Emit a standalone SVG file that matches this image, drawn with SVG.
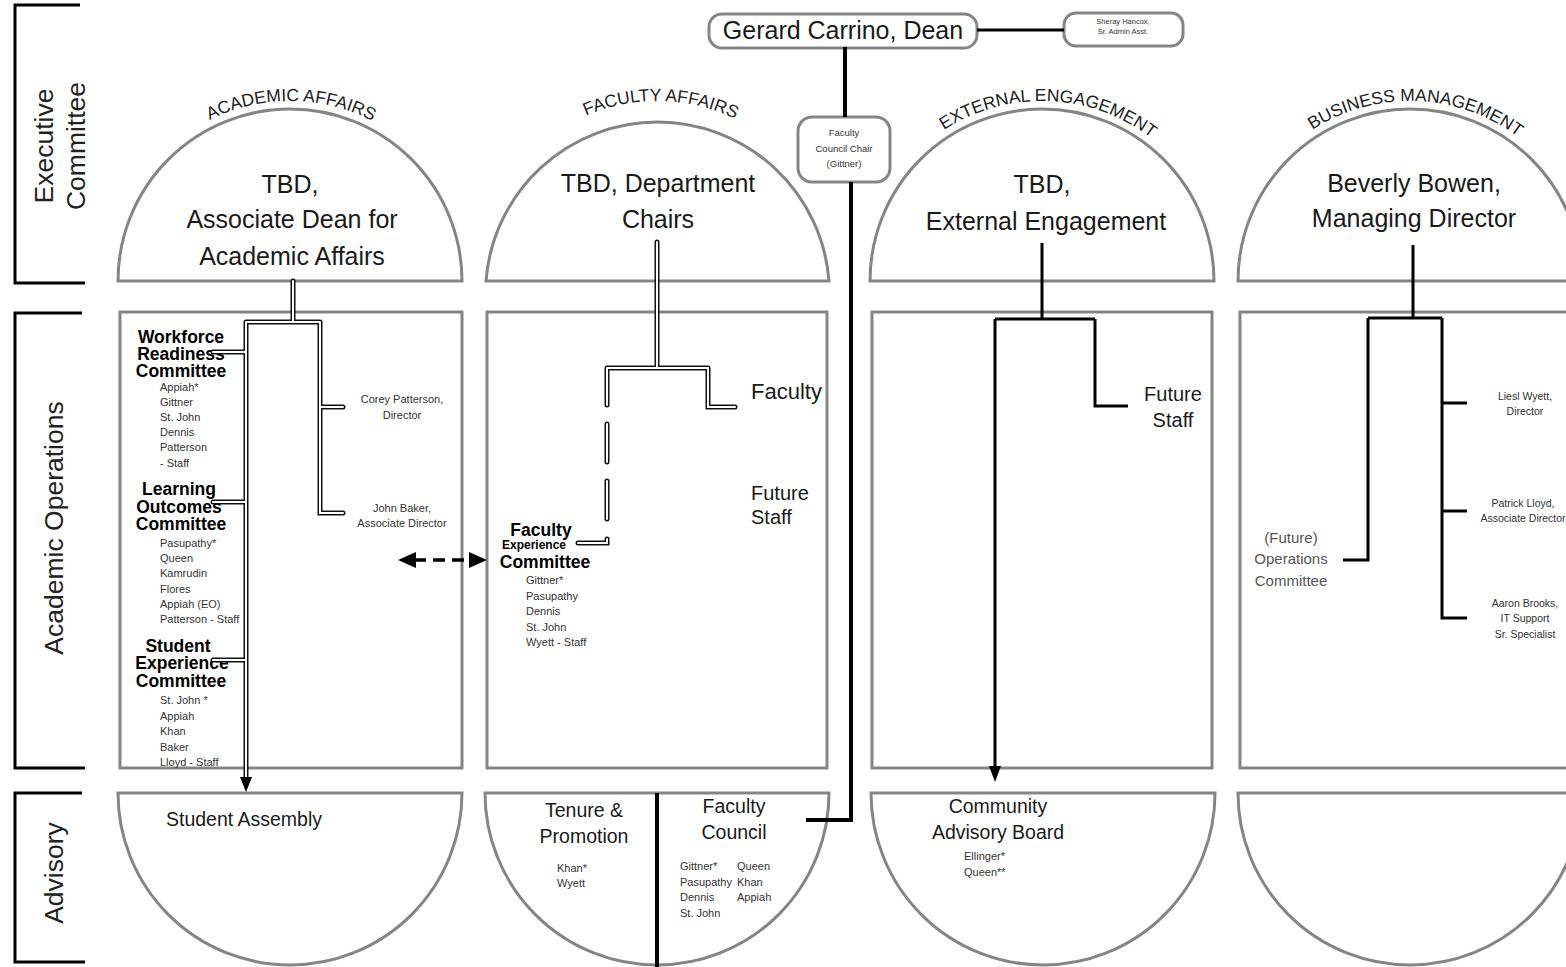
<svg xmlns="http://www.w3.org/2000/svg" width="1566" height="967" viewBox="0 0 1566 967">
<style>
.shape{fill:#fff;stroke:#858585;stroke-width:3}
.brk{fill:none;stroke:#000;stroke-width:3}
.blk{fill:none;stroke:#000;stroke-width:4}
.hol-o{fill:none;stroke:#111;stroke-width:5;stroke-linecap:round}
.hol-i{fill:none;stroke:#fff;stroke-width:2;stroke-linecap:round}
text{font-family:"Liberation Sans",Arial,sans-serif;fill:#1a1a1a}
.big{font-size:25px;text-anchor:middle}
.med{font-size:20px}
.adv{font-size:19.5px;text-anchor:middle}
.sm{font-size:11px;fill:#333}
.smc{font-size:11px;fill:#333;text-anchor:middle}
.b{font-weight:bold;font-size:17.5px;fill:#000;text-anchor:middle}
.side{font-size:26.5px;text-anchor:middle;fill:#222}
.arc{font-size:17.5px;fill:#222}
</style>
<defs>
<path id="a1" d="M110,281 A180,180 0 0 1 470,281"/>
<path id="a2" d="M477,281 A180,180 0 0 1 837,281"/>
<path id="a3" d="M862,281 A180,180 0 0 1 1222,281"/>
<path id="a4" d="M1230,281 A180,180 0 0 1 1590,281"/>
</defs>

<g id="row-labels">
<path class="brk" d="M80,5 H15 V283 H85"/>
<path class="brk" d="M82,313 H15 V768 H85"/>
<path class="brk" d="M82,793 H15 V962 H85"/>
<text class="side" transform="translate(53,146) rotate(-90)">Executive</text>
<text class="side" transform="translate(85,146) rotate(-90)">Committee</text>
<text class="side" transform="translate(63,528) rotate(-90)">Academic Operations</text>
<text class="side" transform="translate(63,873) rotate(-90)">Advisory</text>
</g>

<g id="dean">
<rect class="shape" x="709" y="14" width="268" height="34" rx="13"/>
<text x="843" y="39" class="big">Gerard Carrino, Dean</text>
</g>
<g id="asst">
<rect class="shape" x="1064" y="13" width="119" height="33" rx="12"/>
<text x="1123" y="24" style="font-size:7.5px;text-anchor:middle;fill:#333">Sheray Hancox,</text>
<text x="1123" y="34" style="font-size:7.5px;text-anchor:middle;fill:#333">Sr. Admin Asst.</text>
</g>

<g id="academic-affairs">
<path class="shape" d="M118,281 A172,172 0 0 1 462,281 Z"/>
<text class="arc"><textPath href="#a1" startOffset="50.2%" text-anchor="middle">ACADEMIC AFFAIRS</textPath></text>
<text x="290" y="193" class="big">TBD,</text>
<text x="292" y="228" class="big">Associate Dean for</text>
<text x="292" y="265" class="big">Academic Affairs</text>
<rect class="shape" x="120" y="312" width="342" height="456"/>
<text x="181" y="343" class="b">Workforce</text>
<text x="181" y="360" class="b">Readiness</text>
<text x="181" y="377" class="b">Committee</text>
<text class="sm" x="160" y="391">Appiah*</text>
<text class="sm" x="160" y="406">Gittner</text>
<text class="sm" x="160" y="421">St. John</text>
<text class="sm" x="160" y="436">Dennis</text>
<text class="sm" x="160" y="451">Patterson</text>
<text class="sm" x="160" y="467">- Staff</text>
<text x="179" y="495" class="b">Learning</text>
<text x="179" y="513" class="b">Outcomes</text>
<text x="181" y="530" class="b">Committee</text>
<text class="sm" x="160" y="547">Pasupathy*</text>
<text class="sm" x="160" y="562">Queen</text>
<text class="sm" x="160" y="577">Kamrudin</text>
<text class="sm" x="160" y="593">Flores</text>
<text class="sm" x="160" y="608">Appiah (EO)</text>
<text class="sm" x="160" y="623">Patterson - Staff</text>
<text x="178" y="652" class="b">Student</text>
<text x="182" y="669" class="b">Experience</text>
<text x="181" y="687" class="b">Committee</text>
<text class="sm" x="160" y="704">St. John *</text>
<text class="sm" x="160" y="720">Appiah</text>
<text class="sm" x="160" y="735">Khan</text>
<text class="sm" x="160" y="751">Baker</text>
<text class="sm" x="160" y="766">Lloyd - Staff</text>
<text class="smc" x="402" y="403">Corey Patterson,</text>
<text class="smc" x="402" y="419">Director</text>
<text class="smc" x="402" y="512">John Baker,</text>
<text class="smc" x="402" y="527">Associate Director</text>
<path class="shape" d="M118,793 A172,172 0 0 0 462,793 Z"/>
<text x="244" y="826" class="adv">Student Assembly</text>
</g>

<g id="faculty-affairs">
<path class="shape" d="M486,281 A172,172 0 0 1 829,281 Z"/>
<text class="arc"><textPath href="#a2" startOffset="50.7%" text-anchor="middle">FACULTY AFFAIRS</textPath></text>
<text x="658" y="192" class="big">TBD, Department</text>
<text x="658" y="228" class="big">Chairs</text>
<rect class="shape" x="487" y="312" width="340" height="456"/>
<text x="751" y="399" class="med" style="font-size:22px">Faculty</text>
<text x="751" y="500" class="med">Future</text>
<text x="751" y="524" class="med">Staff</text>
<text x="541" y="536" class="b">Faculty</text>
<text x="534" y="549" class="b" style="font-size:12px">Experience</text>
<text x="545" y="568" class="b">Committee</text>
<text class="sm" x="526" y="584">Gittner*</text>
<text class="sm" x="526" y="600">Pasupathy</text>
<text class="sm" x="526" y="615">Dennis</text>
<text class="sm" x="526" y="631">St. John</text>
<text class="sm" x="526" y="646">Wyett - Staff</text>
<path class="shape" d="M485,793 A172,172 0 0 0 829,793 Z"/>
<text x="584" y="817" class="adv">Tenure &amp;</text>
<text x="584" y="843" class="adv">Promotion</text>
<text class="sm" x="557" y="872">Khan*</text>
<text class="sm" x="557" y="887">Wyett</text>
<text x="734" y="813" class="adv">Faculty</text>
<text x="734" y="839" class="adv">Council</text>
<text class="sm" x="680" y="870">Gittner*</text>
<text class="sm" x="680" y="886">Pasupathy</text>
<text class="sm" x="680" y="901">Dennis</text>
<text class="sm" x="680" y="917">St. John</text>
<text class="sm" x="737" y="870">Queen</text>
<text class="sm" x="737" y="886">Khan</text>
<text class="sm" x="737" y="901">Appiah</text>
</g>

<g id="faculty-council-chair">
<rect class="shape" x="798" y="117" width="92" height="65" rx="14"/>
<text class="smc" x="844" y="136" style="font-size:9.5px">Faculty</text>
<text class="smc" x="844" y="152" style="font-size:9.5px">Council Chair</text>
<text class="smc" x="844" y="167" style="font-size:9.5px">(Gittner)</text>
</g>

<g id="external-engagement">
<path class="shape" d="M870,281 A172,172 0 0 1 1214,281 Z"/>
<text class="arc"><textPath href="#a3" startOffset="51.2%" text-anchor="middle">EXTERNAL ENGAGEMENT</textPath></text>
<text x="1042" y="193" class="big">TBD,</text>
<text x="1046" y="230" class="big">External Engagement</text>
<rect class="shape" x="872" y="312" width="340" height="456"/>
<text x="1173" y="401" class="med" style="text-anchor:middle">Future</text>
<text x="1173" y="427" class="med" style="text-anchor:middle">Staff</text>
<path class="shape" d="M871,793 A172,172 0 0 0 1215,793 Z"/>
<text x="998" y="813" class="adv">Community</text>
<text x="998" y="839" class="adv">Advisory Board</text>
<text class="sm" x="964" y="860">Ellinger*</text>
<text class="sm" x="964" y="876">Queen**</text>
</g>

<g id="business-management">
<path class="shape" d="M1238,281 A172,172 0 0 1 1582,281 Z"/>
<text class="arc"><textPath href="#a4" startOffset="51.1%" text-anchor="middle">BUSINESS MANAGEMENT</textPath></text>
<text x="1414" y="192" class="big">Beverly Bowen,</text>
<text x="1414" y="227" class="big">Managing Director</text>
<rect class="shape" x="1240" y="312" width="345" height="456"/>
<text class="smc" x="1525" y="400" style="font-size:10.5px">Liesl Wyett,</text>
<text class="smc" x="1525" y="415" style="font-size:10.5px">Director</text>
<text class="smc" x="1523" y="507" style="font-size:10.5px">Patrick Lloyd,</text>
<text class="smc" x="1523" y="522" style="font-size:10.5px">Associate Director</text>
<text class="smc" x="1525" y="607" style="font-size:10.5px">Aaron Brooks,</text>
<text class="smc" x="1525" y="622" style="font-size:10.5px">IT Support</text>
<text class="smc" x="1525" y="638" style="font-size:10.5px">Sr. Specialist</text>
<text x="1291" y="543" style="font-size:15px;fill:#555;text-anchor:middle">(Future)</text>
<text x="1291" y="564" style="font-size:15px;fill:#555;text-anchor:middle">Operations</text>
<text x="1291" y="586" style="font-size:15px;fill:#555;text-anchor:middle">Committee</text>
<path class="shape" d="M1238,793 A172,172 0 0 0 1582,793 Z"/>
</g>

<g id="connectors">
<path class="blk" d="M977,30 H1064" style="stroke-width:3"/>
<path class="blk" d="M845,47 V117"/>
<path class="blk" d="M851,182 V820 H806"/>
<path class="blk" d="M657,793 V967"/>
<path class="hol-o" d="M293,281 V322 M246,322 H320 M246,322 V777 M320,322 V513 H343 M320,407 H343 M213,352 H246 M213,502 H246 M213,660 H246"/>
<path class="hol-i" d="M293,281 V322 M246,322 H320 M246,322 V777 M320,322 V513 H343 M320,407 H343 M213,352 H246 M213,502 H246 M213,660 H246"/>
<polygon points="240,777 252,777 246,792" fill="#000"/>
<path class="hol-o" d="M657,242 V368 M607,368 H708 M607,368 V405 M708,368 V407 H735 M607,424 V462 M607,481 V519 M578,543 H607 V539"/>
<path class="hol-i" d="M657,242 V368 M607,368 H708 M607,368 V405 M708,368 V407 H735 M607,424 V462 M607,481 V519 M578,543 H607 V539"/>
<path class="blk" d="M414,560 H471" style="stroke-width:3.5;stroke-dasharray:12 7"/>
<polygon points="398,560 416,552 416,568" fill="#000"/>
<polygon points="487,560 469,552 469,568" fill="#000"/>
<path class="blk" d="M1042,243 V319 M995,319 H1095 M995,319 V768 M1095,319 V406 H1128" style="stroke-width:3"/>
<polygon points="989,766 1001,766 995,782" fill="#000"/>
<path class="blk" d="M1413,245 V318 M1368,318 H1442 M1368,318 V560 H1343 M1442,318 V618 H1467 M1442,403 H1467 M1442,511 H1467" style="stroke-width:3"/>
</g>
</svg>
